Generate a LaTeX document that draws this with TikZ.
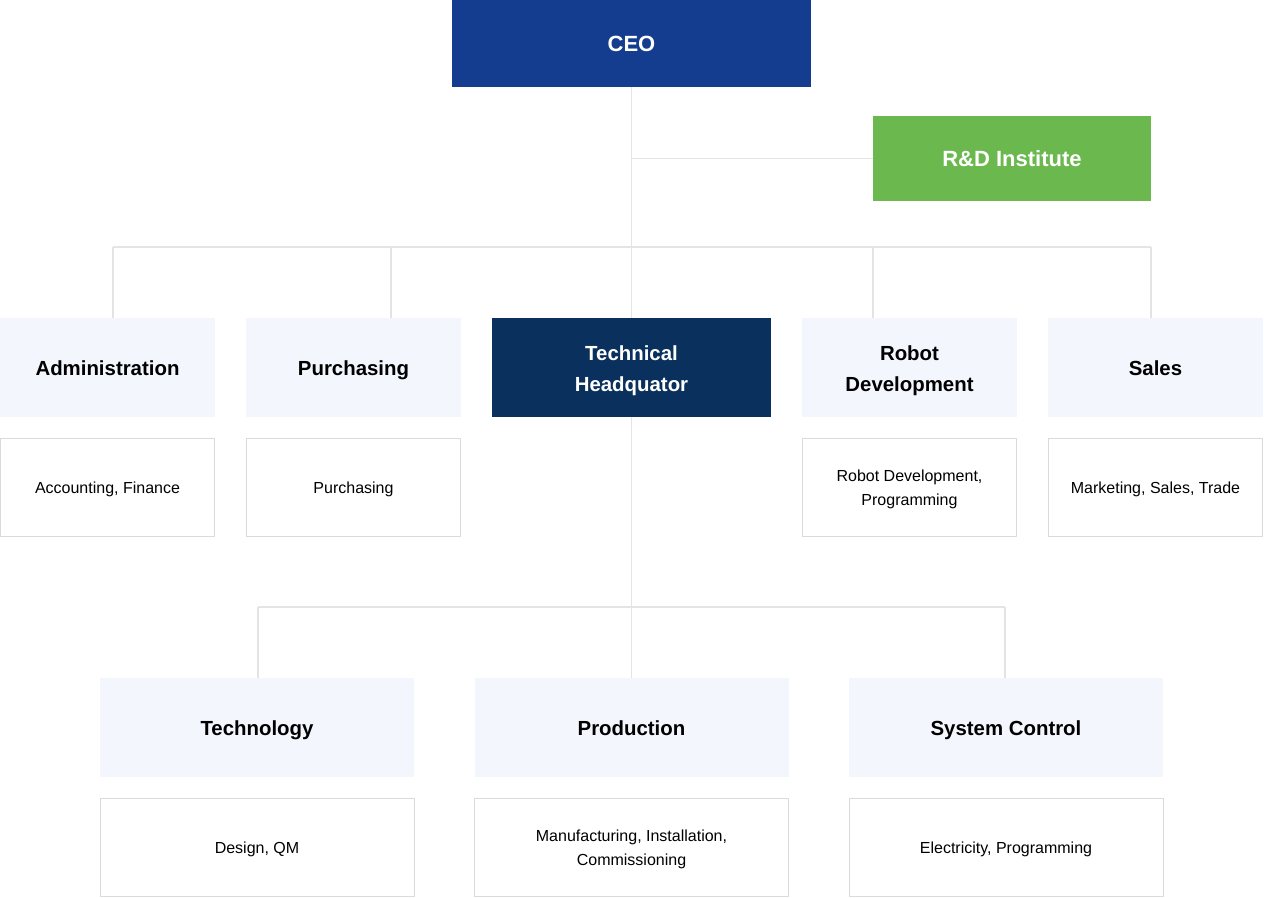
\documentclass[tikz,border=0pt]{standalone}
\usepackage{fontspec}
\setmainfont{Liberation Sans}
\definecolor{ceoblue}{HTML}{143C8F}
\definecolor{hqnavy}{HTML}{0A315E}
\definecolor{rdgreen}{HTML}{6BB84F}
\definecolor{deptfill}{HTML}{F3F6FD}
\definecolor{linegray}{HTML}{E4E4E4}
\definecolor{boxgray}{HTML}{DADADA}
\newcommand\linestrut{\rule[-0.23\baselineskip]{0pt}{\baselineskip}}
\tikzset{
	every node/.style={execute at begin node=\linestrut, execute at end node=\linestrut},
	head/.style={fill=#1, text=white, inner sep=0pt, text width=130pt, align=flush center, font=\fontsize{11}{15.5}\selectfont\bfseries},
	dept/.style={fill=deptfill, minimum width=107.5pt, minimum height=49.5pt, inner sep=0pt, text width=100pt, align=flush center, font=\fontsize{10.2}{15.5}\selectfont\bfseries},
	task/.style={draw=boxgray, line width=0.5pt, fill=white, minimum width=107pt, minimum height=49pt, inner sep=0pt, text width=100pt, align=flush center, font=\fontsize{8}{12}\selectfont},
	wide/.style={minimum width=157pt, text width=150pt},
	link/.style={draw=linegray, line width=0.6pt}
}
\begin{document}
\begin{tikzpicture}[x=0.5pt, y=-0.5pt, line join=round]
	\useasboundingbox (0,0) rectangle (1264,898);
	% top
	\node[head=ceoblue, minimum width=179.5pt, minimum height=43.5pt] (ceo) at (631.5,43.5) {CEO};
	\node[head=rdgreen, minimum width=139pt, minimum height=42.5pt] (rd) at (1012,158.5) {R\&D Institute};
	% first row
	\node[dept] (adm) at (107.5,367.5) {Administration};
	\node[dept] (pur) at (353.5,367.5) {Purchasing};
	\node[dept, fill=hqnavy, text=white, minimum width=139.5pt] (hq) at (631.5,367.5) {Technical\\Headquator};
	\node[dept] (rob) at (909.5,367.5) {Robot\\Development};
	\node[dept] (sal) at (1155.5,367.5) {Sales};
	\node[task] (admt) at (107.5,487.5) {Accounting, Finance};
	\node[task] (purt) at (353.5,487.5) {Purchasing};
	\node[task] (robt) at (909.5,487.5) {Robot Development,\\Programming};
	\node[task] (salt) at (1155.5,487.5) {Marketing, Sales, Trade};
	% second row
	\node[dept, wide] (tec) at (257,727.5) {Technology};
	\node[dept, wide] (pro) at (631.5,727.5) {Production};
	\node[dept, wide] (sys) at (1006,727.5) {System Control};
	\node[task, wide] (tect) at (257,847.5) {Design, QM};
	\node[task, wide] (prot) at (631.5,847.5) {Manufacturing, Installation,\\Commissioning};
	\node[task, wide] (syst) at (1006,847.5) {Electricity, Programming};
	% connectors
	\coordinate (b1) at (113,247);
	\coordinate (b2) at (391,247);
	\coordinate (b4) at (873,247);
	\coordinate (b5) at (1151,247);
	\coordinate (c1) at (258,607);
	\coordinate (c2) at (631.5,607);
	\coordinate (c3) at (1005,607);
	\path[link] (ceo.south) -- (hq.north);
	\path[link] (ceo.south |- rd.west) -- (rd.west);
	\path[link] (b1) -- (b5);
	\path[link] (b1) -- (b1 |- adm.north);
	\path[link] (b2) -- (b2 |- pur.north);
	\path[link] (b4) -- (b4 |- rob.north);
	\path[link] (b5) -- (b5 |- sal.north);
	\path[link] (hq.south) -- (c2) -- (pro.north);
	\path[link] (c1) -- (c3);
	\path[link] (c1) -- (c1 |- tec.north);
	\path[link] (c3) -- (c3 |- sys.north);
\end{tikzpicture}
\end{document}
